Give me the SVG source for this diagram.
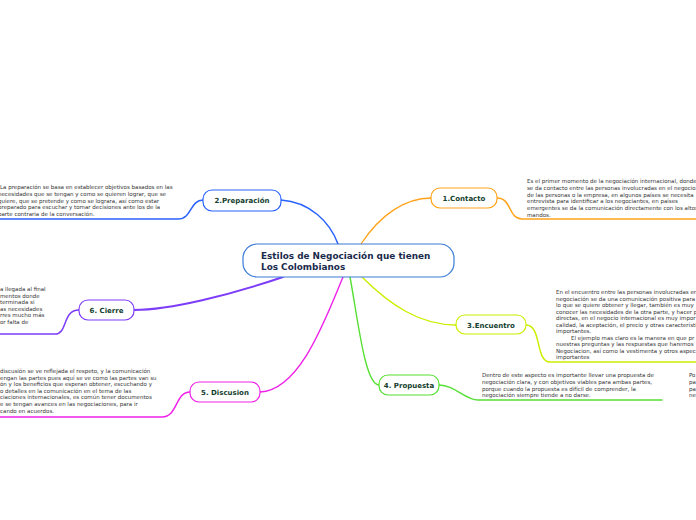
<svg xmlns="http://www.w3.org/2000/svg" width="696" height="520" viewBox="0 0 696 520">
<style>
.n{fill:#fff;stroke-width:1.2}
.lbl{font-family:"DejaVu Sans",Verdana,sans-serif;font-weight:bold;font-size:7px;fill:#123d2d;text-anchor:middle}
.ctr{font-family:"DejaVu Sans",Verdana,sans-serif;font-weight:bold;font-size:8.9px;fill:#1a2b4c}
.body{font-family:"DejaVu Sans",Verdana,sans-serif;font-size:5.5px;fill:#333}
.c{fill:none;stroke-linecap:round}
</style>
<rect width="696" height="520" fill="#fff"/>
<g id="connectors">
<path class="c" d="M338,244 C330,222 310,202 281,200" stroke="#2962ff" stroke-width="1.5"/>
<path class="c" d="M361,244 C380,215 405,198 431,198" stroke="#ffa31a" stroke-width="1.3"/>
<path class="c" d="M283,277 C230,295 170,310 134,310" stroke="#7d3cf8" stroke-width="1.9"/>
<path class="c" d="M343,277 C325,320 300,390 260,392" stroke="#ee22e8" stroke-width="1.4"/>
<path class="c" d="M350,277 C358,320 365,385 379,385" stroke="#55e033" stroke-width="1.4"/>
<path class="c" d="M362,277 C390,305 420,325 456,325" stroke="#ccee00" stroke-width="1.4"/>
<path class="c" d="M203,200 C190,200 192,219 178,219 L0,219" stroke="#2962ff" stroke-width="1.5"/>
<path class="c" d="M497,198 C512,198 508,219 522,219 L696,219" stroke="#ffa31a" stroke-width="1.5"/>
<path class="c" d="M79,310 C62,310 68,334 55,334 L0,334" stroke="#7d3cf8" stroke-width="1.5"/>
<path class="c" d="M526,325 C542,325 535,362 550,362 L696,362" stroke="#ccee00" stroke-width="1.5"/>
<path class="c" d="M439,385 C455,385 465,400 478,400 L662,400" stroke="#55e033" stroke-width="1.5"/>
<path class="c" d="M190,392 C175,392 178,417 162,417 L0,417" stroke="#ee22e8" stroke-width="1.5"/>
</g>
<g id="center">
<rect class="n" x="243" y="244" width="211" height="33" rx="14" stroke="#3a7bd5"/>
<text class="ctr" x="261" y="259">Estilos de  Negociación que tienen</text>
<text class="ctr" x="261" y="270">Los Colombianos</text>
</g>
<g id="n1">
<rect class="n" x="431" y="188" width="66" height="20" rx="9" stroke="#ffa31a"/>
<text class="lbl" x="464" y="201">1.Contacto</text>
</g>
<g id="n2">
<rect class="n" x="203" y="190" width="78" height="21" rx="9" stroke="#2962ff"/>
<text class="lbl" x="242" y="203">2.Preparación</text>
</g>
<g id="n3">
<rect class="n" x="456" y="315" width="70" height="19" rx="9" stroke="#ccee00"/>
<text class="lbl" x="491" y="327.5">3.Encuentro</text>
</g>
<g id="n4">
<rect class="n" x="379" y="375" width="60" height="20" rx="9" stroke="#55e033"/>
<text class="lbl" x="409" y="388">4. Propuesta</text>
</g>
<g id="n5">
<rect class="n" x="190" y="382" width="70" height="20" rx="9" stroke="#ee22e8"/>
<text class="lbl" x="225" y="395">5. Discusion</text>
</g>
<g id="n6">
<rect class="n" x="79" y="300" width="55" height="20" rx="9" stroke="#7d3cf8"/>
<text class="lbl" x="106.5" y="313">6. Cierre</text>
</g>
<g id="t1" class="body">
<text x="527" y="183">Es el primer momento de la negociación internacional, donde</text>
<text x="527" y="189.8">se da contacto entre las personas involucradas en el negocio,</text>
<text x="527" y="196.6">de las personas o la empresa, en algunos países se necesita</text>
<text x="527" y="203.4">entrevista para identificar a los negociantes, en países</text>
<text x="527" y="210.2">emergentes se da la comunicación directamente con los altos</text>
<text x="527" y="217">mandos.</text>
</g>
<g id="t2" class="body">
<text x="0" y="189">La preparación se basa en  establecer objetivos basados en las</text>
<text x="-2" y="195.8">necesidades que se tengan y como se quieren lograr, que se</text>
<text x="-2" y="202.6">quiere, que se pretende y como se lograra, así como estar</text>
<text x="-2" y="209.4">preparado para escuchar y tomar decisiones ante los de la</text>
<text x="-2" y="216.2">parte contraria de la conversación.</text>
</g>
<g id="t3" class="body">
<text x="556" y="294">En el encuentro entre las personas involucradas en</text>
<text x="556" y="300.5">negociación se da una comunicación positiva para</text>
<text x="556" y="307">lo que se quiere obtener y llegar, también es muy</text>
<text x="556" y="313.5">conocer las necesidades de la otra parte, y hacer p</text>
<text x="556" y="320">directas, en el negocio internacional es muy impor</text>
<text x="556" y="326.5">calidad, la aceptación, el precio y otras característi</text>
<text x="556" y="333">importantes.</text>
<text x="571" y="339.5">El ejemplo mas claro es la manera en que pr</text>
<text x="556" y="346">nuestras preguntas y las respuestas que haremos</text>
<text x="556" y="352.5">Negociacion, así como la vestimenta y otros aspec</text>
<text x="556" y="359">importantes</text>
</g>
<g id="t4" class="body">
<text x="482" y="377">Dentro de este aspecto es importante llevar una propuesta de</text>
<text x="482" y="383.8">negociación clara, y con objetivos viables para ambas partes,</text>
<text x="482" y="390.6">porque cuando la propuesta es difícil de comprender, la</text>
<text x="482" y="397.4">negociación siempre tiende a no darse.</text>
<text x="689" y="377">Po</text>
<text x="689" y="383.8">pa</text>
<text x="689" y="390.6">pa</text>
<text x="689" y="397.4">ne</text>
</g>
<g id="t5" class="body">
<text x="0" y="373">discusión se ve reflejada el respeto, y la comunicación</text>
<text x="0" y="379.6">engan las partes pues aquí se ve como las partes van su</text>
<text x="0" y="386.2">ón y los beneficios que esperan obtener, escuchando y</text>
<text x="0" y="392.8">o detalles en la comunicación en el tema de las</text>
<text x="0" y="399.4">ciaciones internacionales, es común tener documentos</text>
<text x="0" y="406">e se tengan avances en las negociaciones, para ir</text>
<text x="0" y="412.6">cando en acuerdos.</text>
</g>
<g id="t6" class="body">
<text x="0" y="291">a llegada al final</text>
<text x="0" y="297.6">mentos donde</text>
<text x="0" y="304.2">terminada si</text>
<text x="0" y="310.8">as necesidades</text>
<text x="0" y="317.4">rres mucho más</text>
<text x="0" y="324">or falta de</text>
</g>
</svg>
